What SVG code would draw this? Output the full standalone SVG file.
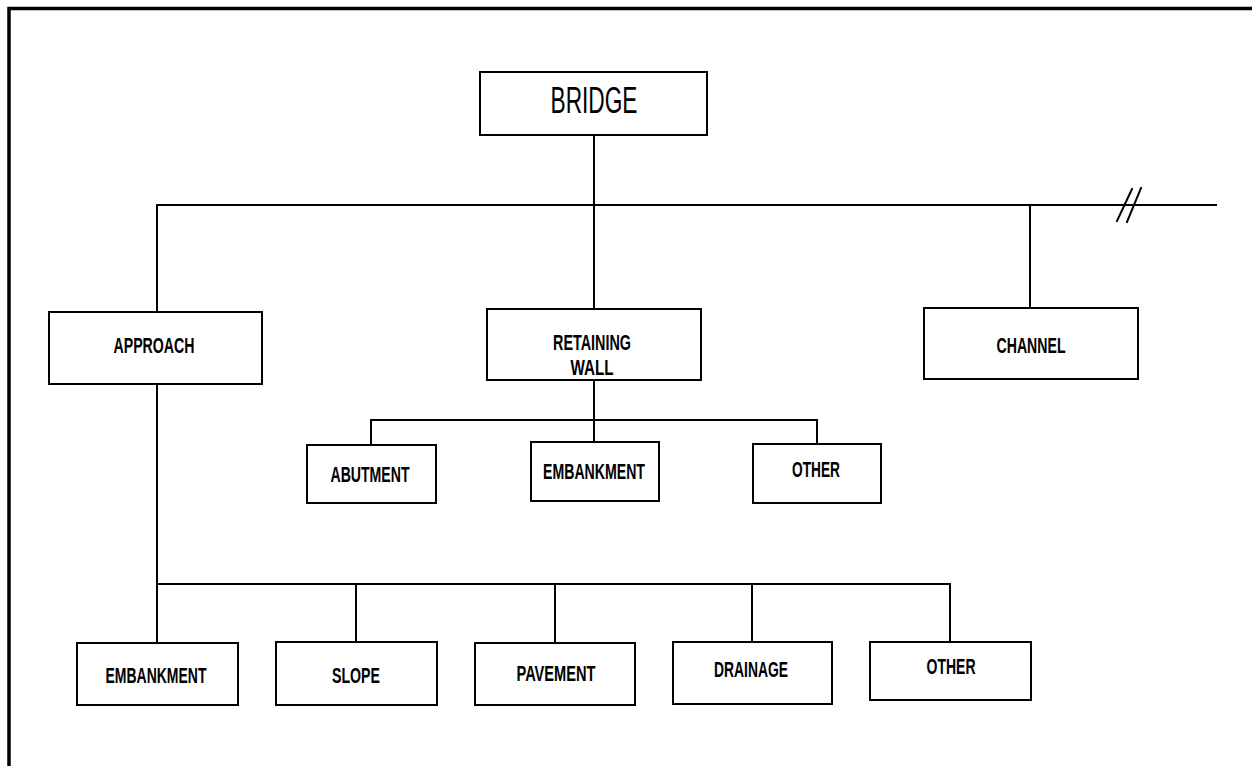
<svg xmlns="http://www.w3.org/2000/svg" width="1252" height="766" viewBox="0 0 1252 766">
  <style>
    .box { fill: #ffffff; stroke: #000000; stroke-width: 2; }
    .wire { fill: none; stroke: #000000; stroke-width: 2; stroke-linecap: square; }
    .frame { fill: none; stroke: #000000; stroke-width: 3.5; }
    .lbl { font-family: "Liberation Sans", Arial, sans-serif; font-size: 22.5px; font-weight: bold; fill: #000000; text-anchor: middle; }
    .title { font-family: "Liberation Sans", Arial, sans-serif; font-size: 36px; fill: #000000; text-anchor: middle; }
  </style>
  <rect width="1252" height="766" fill="#ffffff"/>

  <!-- sheet border (top and left edges) -->
  <path class="frame" d="M9 766 V8.5 H1252"/>

  <g id="connectors">
    <!-- top level -->
    <path class="wire" d="M594 135 V205"/>
    <path class="wire" d="M157 205 H1216"/>
    <path class="wire" d="M157 205 V312"/>
    <path class="wire" d="M594 205 V309"/>
    <path class="wire" d="M1030 205 V308"/>
    <!-- break mark -->
    <path class="wire" d="M1117 221 L1132 189 M1127 222 L1141 188"/>
    <!-- retaining wall branch -->
    <path class="wire" d="M594 380 V420"/>
    <path class="wire" d="M371 420 H817"/>
    <path class="wire" d="M371 420 V445"/>
    <path class="wire" d="M594 420 V442"/>
    <path class="wire" d="M817 420 V444"/>
    <!-- approach branch -->
    <path class="wire" d="M157 384 V584"/>
    <path class="wire" d="M157 584 H950"/>
    <path class="wire" d="M157 584 V643"/>
    <path class="wire" d="M356 584 V642"/>
    <path class="wire" d="M555 584 V643"/>
    <path class="wire" d="M752 584 V642"/>
    <path class="wire" d="M950 584 V642"/>
  </g>

  <g id="bridge">
    <rect class="box" x="480" y="72" width="227" height="63"/>
    <text class="title" x="594" y="113" textLength="87" lengthAdjust="spacingAndGlyphs">BRIDGE</text>
  </g>

  <g id="approach">
    <rect class="box" x="49" y="312" width="213" height="72"/>
    <text class="lbl" x="154" y="353" textLength="81" lengthAdjust="spacingAndGlyphs">APPROACH</text>
  </g>

  <g id="retaining-wall">
    <rect class="box" x="487" y="309" width="214" height="71"/>
    <text class="lbl" x="592" y="350" textLength="78" lengthAdjust="spacingAndGlyphs">RETAINING</text>
    <text class="lbl" x="592" y="375" textLength="43" lengthAdjust="spacingAndGlyphs">WALL</text>
  </g>

  <g id="channel">
    <rect class="box" x="924" y="308" width="214" height="71"/>
    <text class="lbl" x="1031" y="353" textLength="69" lengthAdjust="spacingAndGlyphs">CHANNEL</text>
  </g>

  <g id="rw-abutment">
    <rect class="box" x="307" y="445" width="129" height="58"/>
    <text class="lbl" x="370" y="482" textLength="79" lengthAdjust="spacingAndGlyphs">ABUTMENT</text>
  </g>

  <g id="rw-embankment">
    <rect class="box" x="531" y="442" width="128" height="59"/>
    <text class="lbl" x="594" y="479" textLength="102" lengthAdjust="spacingAndGlyphs">EMBANKMENT</text>
  </g>

  <g id="rw-other">
    <rect class="box" x="753" y="444" width="128" height="59"/>
    <text class="lbl" x="816" y="477" textLength="48" lengthAdjust="spacingAndGlyphs">OTHER</text>
  </g>

  <g id="ap-embankment">
    <rect class="box" x="77" y="643" width="161" height="62"/>
    <text class="lbl" x="156" y="683" textLength="101" lengthAdjust="spacingAndGlyphs">EMBANKMENT</text>
  </g>

  <g id="ap-slope">
    <rect class="box" x="276" y="642" width="161" height="63"/>
    <text class="lbl" x="356" y="683" textLength="48" lengthAdjust="spacingAndGlyphs">SLOPE</text>
  </g>

  <g id="ap-pavement">
    <rect class="box" x="475" y="643" width="160" height="62"/>
    <text class="lbl" x="556" y="681" textLength="79" lengthAdjust="spacingAndGlyphs">PAVEMENT</text>
  </g>

  <g id="ap-drainage">
    <rect class="box" x="673" y="642" width="159" height="62"/>
    <text class="lbl" x="751" y="677" textLength="74" lengthAdjust="spacingAndGlyphs">DRAINAGE</text>
  </g>

  <g id="ap-other">
    <rect class="box" x="870" y="642" width="161" height="58"/>
    <text class="lbl" x="951" y="674" textLength="49" lengthAdjust="spacingAndGlyphs">OTHER</text>
  </g>
</svg>
